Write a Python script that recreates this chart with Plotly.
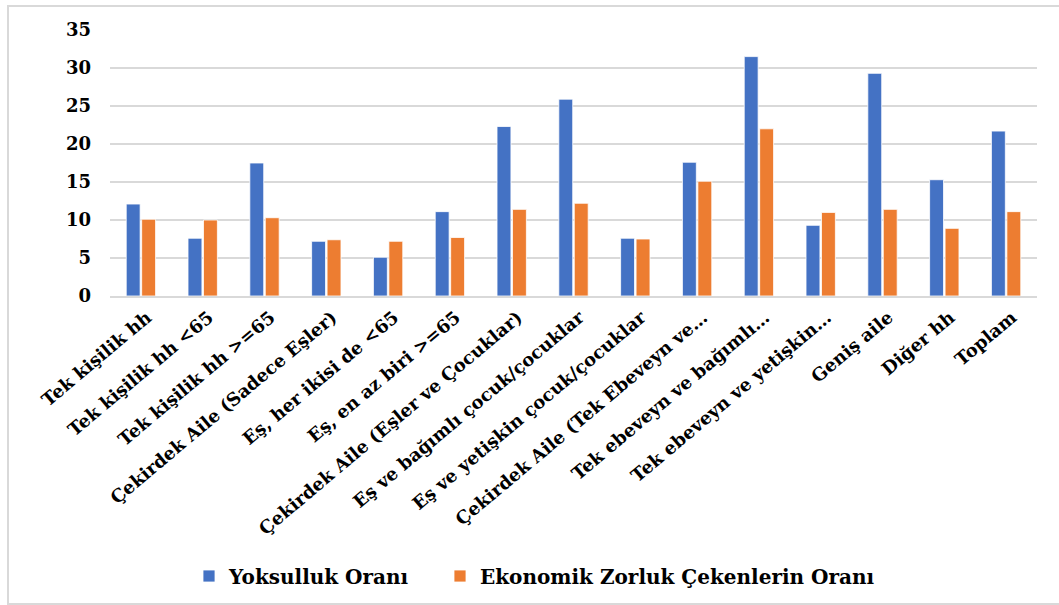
import plotly.graph_objects as go

categories = [
    "Tek kişilik hh",
    "Tek kişilik hh <65",
    "Tek kişilik hh >=65",
    "Çekirdek Aile (Sadece Eşler)",
    "Eş, her ikisi de <65",
    "Eş, en az biri >=65",
    "Çekirdek Aile (Eşler ve Çocuklar)",
    "Eş ve bağımlı çocuk/çocuklar",
    "Eş ve yetişkin çocuk/çocuklar",
    "Çekirdek Aile (Tek Ebeveyn ve…",
    "Tek ebeveyn ve bağımlı…",
    "Tek ebeveyn ve yetişkin…",
    "Geniş aile",
    "Diğer hh",
    "Toplam",
]

yoksulluk = [12.1, 7.6, 17.5, 7.2, 5.1, 11.1, 22.3, 25.9, 7.6, 17.6, 31.5, 9.3, 29.3, 15.3, 21.7]
ekonomik = [10.1, 10.0, 10.3, 7.4, 7.2, 7.7, 11.4, 12.2, 7.5, 15.1, 22.0, 11.0, 11.4, 8.9, 11.1]

series_names = ["Yoksulluk Oranı", "Ekonomik Zorluk Çekenlerin Oranı"]
series_colors = ["#4472C4", "#ED7D31"]
y_ticks = [0, 5, 10, 15, 20, 25, 30, 35]

FONT = "DejaVu Serif"

W, H = 1059, 605
L, R, T, B = 110, 22, 30, 309
pw, ph = W - L - R, H - T - B

def px_x(p):
    return (p - L) / pw

def px_y(p):
    return (H - B - p) / ph

fig = go.Figure()
for i, (name, vals, col) in enumerate(zip(series_names, [yoksulluk, ekonomik], series_colors)):
    fig.add_trace(go.Bar(
        x=categories, y=vals, name=name, showlegend=True,
        legend="legend" if i == 0 else "legend2",
        marker=dict(color=col, line=dict(color="rgba(255,255,255,0.8)", width=1)),
    ))

legend_font = dict(family=FONT, size=20, color="black", weight="bold")

fig.update_layout(
    width=W, height=H, showlegend=True,
    margin=dict(l=L, r=R, t=T, b=B, autoexpand=False),
    paper_bgcolor="white", plot_bgcolor="white",
    barmode="group", bargap=0.5, bargroupgap=0.1,
    font=dict(family=FONT, color="black"),
    xaxis=dict(
        tickangle=-40, automargin=False,
        tickfont=dict(family=FONT, size=18, color="black", weight="bold"),
        showgrid=False, showline=True, linecolor="#d9d9d9", linewidth=2,
        ticks="", ticklabelstandoff=2, ticklabelshift=6,
    ),
    yaxis=dict(
        range=[0, 35], tickvals=y_ticks, automargin=False,
        tickfont=dict(family=FONT, size=18, color="black", weight="bold"),
        showgrid=True, gridcolor="#d9d9d9", gridwidth=2,
        zeroline=False, showline=False, ticks="", ticklabelstandoff=18,
    ),
    legend=dict(
        visible=True,
        orientation="h", x=px_x(189), y=px_y(576), xanchor="left", yanchor="middle",
        font=legend_font, itemwidth=30, bgcolor="rgba(0,0,0,0)",
    ),
    legend2=dict(
        visible=True,
        orientation="h", x=px_x(440), y=px_y(576), xanchor="left", yanchor="middle",
        font=legend_font, itemwidth=30, bgcolor="rgba(0,0,0,0)",
    ),
    shapes=[dict(
        type="rect", xref="paper", yref="paper",
        x0=px_x(8), x1=px_x(1065), y0=px_y(604), y1=px_y(6),
        line=dict(color="#d9d9d9", width=2), layer="below",
    )],
)

fig.write_html(
    "out.html",
    config={"displayModeBar": False},
    post_script="document.body.style.margin='0px';",
)
